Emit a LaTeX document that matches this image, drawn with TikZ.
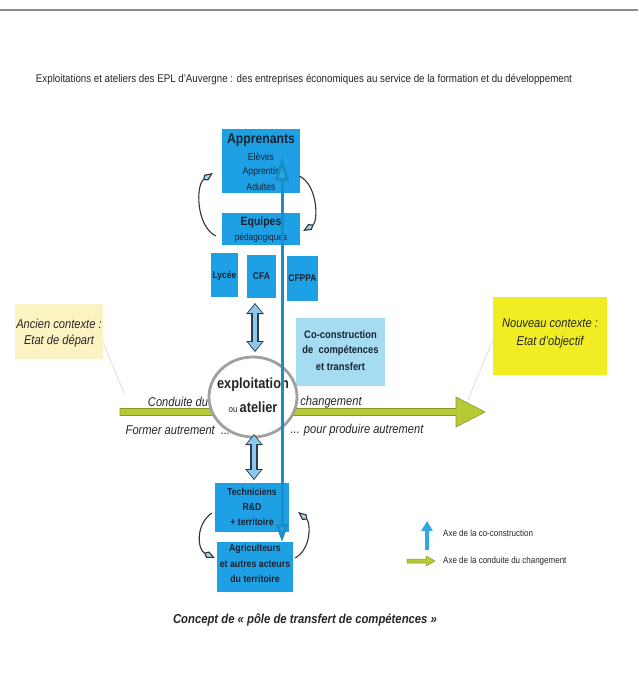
\documentclass[tikz,border=0pt]{standalone}
\usepackage{fontspec}
\setmainfont[FakeStretch=0.87]{Liberation Sans}
\usetikzlibrary{arrows.meta,shapes.geometric,calc}
\definecolor{boxblue}{RGB}{30,160,228}
\definecolor{vblue}{RGB}{27,141,198}
\definecolor{vbluefill}{RGB}{45,168,225}
\definecolor{lightbox}{RGB}{166,220,242}
\definecolor{paleyel}{RGB}{251,244,194}
\definecolor{brightyel}{RGB}{240,238,34}
\definecolor{gfill}{RGB}{183,201,53}
\definecolor{gdark}{RGB}{135,150,40}
\definecolor{ellgray}{RGB}{160,160,160}
\definecolor{dafill}{RGB}{140,200,238}
\definecolor{daout}{RGB}{45,60,75}
\definecolor{boxtext}{RGB}{25,35,50}
\definecolor{arrfill}{RGB}{160,212,240}
\newcommand{\fsz}[1]{\fontsize{#1}{#1}\selectfont}
\tikzset{
  bbox/.style={fill=boxblue, draw=none, inner sep=0pt},
  tx/.style={inner sep=0pt, text=boxtext},
  curv/.style={draw=black!80, line width=1.1pt, -{Kite[length=12pt,width=7pt,inset=4pt,fill=arrfill]}},
  faint/.style={draw=black!18, line width=0.5pt},
}
\begin{document}
\begin{tikzpicture}[x=1pt,y=-1pt]
\useasboundingbox (0,0) rectangle (638,696);
\fill[white] (0,0) rectangle (638,696);
\draw[black!45, line width=1.2pt] (0,10) -- (638,10);

% title
\node[tx, text=black!85] (title) at (304,80) {\fsz{11.2}Exploitations et ateliers des EPL d'Auvergne : des entreprises économiques au service de la formation et du développement};

% context boxes
\node[fill=paleyel, minimum width=88pt, minimum height=55pt, inner sep=0pt] (anc) at (59,331) {};
\node[tx, text=black!85] (anc1) at (59,324) {\fsz{12.8}\itshape Ancien contexte :};
\node[tx, text=black!85] (anc2) at (59,341) {\fsz{12.8}\itshape Etat de départ};
\node[fill=brightyel, minimum width=114pt, minimum height=78pt, inner sep=0pt] (nouv) at (550,336) {};
\node[tx, text=black!85] (nouv1) at (550,323) {\fsz{12.8}\itshape Nouveau contexte :};
\node[tx, text=black!85] (nouv2) at (550,342) {\fsz{12.8}\itshape Etat d'objectif};

% green arrow (conduite du changement)
\coordinate (gs) at (120,412);
\coordinate (ge) at (485,412);
\draw[faint] (anc.east |- 0,343) -- (125,395);
\draw[faint] (nouv.west |- 0,340) -- (468,400);
\filldraw[fill=gfill, draw=gdark, line width=0.6pt]
  ([yshift=3.5pt]gs) -- ([xshift=-29pt,yshift=3.5pt]ge) -- ([xshift=-29pt,yshift=15pt]ge) -- (ge)
  -- ([xshift=-29pt,yshift=-15pt]ge) -- ([xshift=-29pt,yshift=-3.5pt]ge) -- ([yshift=-3.5pt]gs) -- cycle;
\node[tx, text=black!85] (cond) at (178,402) {\fsz{12.8}\itshape Conduite du};
\node[tx, text=black!85] (chg) at (331,402) {\fsz{12.8}\itshape changement};
\node[tx, text=black!85] (form) at (178,430) {\fsz{12.8}\itshape Former autrement \ ...};
\node[tx, text=black!85] (prod) at (357,430) {\fsz{12.8}\itshape ... pour produire autrement};

% upper boxes
\node[bbox, minimum width=78pt, minimum height=64pt] (appr) at (261,161) {};
\node[tx] (appr1) at (261,140) {\fsz{14}\bfseries Apprenants};
\node[tx] (appr2) at (261,157) {\fsz{10}Elèves};
\node[tx] (appr3) at (261,172) {\fsz{10}Apprentis};
\node[tx] (appr4) at (261,187) {\fsz{10}Adultes};
\node[bbox, minimum width=78pt, minimum height=32pt] (equ) at (261,229) {};
\node[tx] (equ1) at (261,222) {\fsz{12}\bfseries Equipes};
\node[tx] (equ2) at (261,238) {\fsz{9.6}pédagogiques};
\node[bbox, minimum width=27pt, minimum height=44pt] (lyc) at (224.5,275) {};
\node[tx] (lyc1) at (224.5,276) {\fsz{9.8}\bfseries Lycée};
\node[bbox, minimum width=29pt, minimum height=43pt] (cfa) at (261.5,276.5) {};
\node[tx] (cfa1) at (261.5,276) {\fsz{9.8}\bfseries CFA};
\node[bbox, minimum width=31pt, minimum height=45pt] (cfppa) at (302.5,278.5) {};
\node[tx] (cfppa1) at (302.5,278.5) {\fsz{9.8}\bfseries CFPPA};

\draw[curv] ([xshift=-6pt,yshift=-7pt]equ.west) .. controls +(-20,-10) and +(-17,12) .. ([xshift=-9pt,yshift=-12pt]appr.west);
\draw[curv] ([xshift=-1pt,yshift=-15pt]appr.east) .. controls +(19,9) and +(15,-9) .. ([xshift=3pt,yshift=-2pt]equ.east);

% co-construction box
\node[fill=lightbox, minimum width=89pt, minimum height=68pt, inner sep=0pt] (coc) at (340.5,352) {};
\node[tx] (coc1) at (340.5,335) {\fsz{10.8}\bfseries Co-construction};
\node[tx] (coc2) at (340.5,351) {\fsz{10.8}\bfseries de \ compétences};
\node[tx] (coc3) at (340.5,367) {\fsz{10.8}\bfseries et transfert};

% ellipse
\node[ellipse, draw=ellgray, line width=2.8pt, fill=white, minimum width=88pt, minimum height=80pt, inner sep=0pt] (ell) at (253,397) {};
\node[tx, text=black!85] (ell1) at (253,385) {\fsz{14.7}\bfseries exploitation};
\node[tx, text=black!85] (ell2) at (253,407) {\fsz{9.2}ou \fsz{14.7}\bfseries atelier};

% lower boxes
\node[bbox, minimum width=74pt, minimum height=49pt] (tech) at (252,507.5) {};
\node[tx] (tech1) at (252,492) {\fsz{10}\bfseries Techniciens};
\node[tx] (tech2) at (252,507) {\fsz{10}\bfseries R\&D};
\node[tx] (tech3) at (252,522) {\fsz{10}\bfseries + territoire};
\node[bbox, minimum width=76pt, minimum height=50pt] (agr) at (255,567) {};
\node[tx] (agr1) at (255,549) {\fsz{10.1}\bfseries Agriculteurs};
\node[tx] (agr2) at (255,564) {\fsz{10.1}\bfseries et autres acteurs};
\node[tx] (agr3) at (255,579) {\fsz{10.1}\bfseries du territoire};

\draw[curv] ([xshift=-3pt,yshift=-5.5pt]tech.west) .. controls +(-17,12) and +(-17,-8) .. ([xshift=-2pt,yshift=9pt]agr.west);
\draw[curv] ([xshift=2pt,yshift=9pt]agr.east) .. controls +(17,-10) and +(12,10) .. ([xshift=9pt,yshift=-4.5pt]tech.east);

% double arrows
\coordinate (da1a) at (255,303);
\coordinate (da1b) at (255,352);
\coordinate (da2a) at (254,434);
\coordinate (da2b) at (254,480);
\foreach \a/\b in {da1a/da1b, da2a/da2b}{
  \draw[daout, line width=7.4pt, {Triangle[length=11pt,width=17pt]}-{Triangle[length=11pt,width=17pt]}] (\a) -- (\b);
  \draw[dafill, line width=4.6pt, shorten <=1.4pt, shorten >=1.4pt, {Triangle[length=8.4pt,width=13pt]}-{Triangle[length=8.4pt,width=13pt]}] (\a) -- (\b);
}

% vertical co-construction axis
\coordinate (vt) at (282,157);
\coordinate (vb) at (282,542);
\draw[vblue, line width=3pt, {Triangle[length=24pt,width=14pt,fill=vbluefill]}-{Triangle[length=18pt,width=12pt,fill=vbluefill]}] (vt) -- (vb);

% legend
\coordinate (lb1) at (427,550);
\coordinate (lb2) at (427,521);
\draw[vbluefill, line width=4.5pt, -{Triangle[length=10pt,width=11pt]}] (lb1) -- (lb2);
\node[tx, anchor=west, text=black!85] (leg1) at (443,533) {\fsz{9.2}Axe de la co-construction};
\coordinate (lg1) at (407,561);
\coordinate (lg2) at (435,561);
\filldraw[fill=gfill, draw=gdark, line width=0.5pt]
  ([yshift=2pt]lg1) -- ([xshift=-9pt,yshift=2pt]lg2) -- ([xshift=-9pt,yshift=5pt]lg2) -- (lg2)
  -- ([xshift=-9pt,yshift=-5pt]lg2) -- ([xshift=-9pt,yshift=-2pt]lg2) -- ([yshift=-2pt]lg1) -- cycle;
\node[tx, anchor=west, text=black!85] (leg2) at (443,561) {\fsz{9.2}Axe de la conduite du changement};

% caption
\node[tx, text=black!85] (cap) at (305,620) {\fsz{13}\bfseries\itshape Concept de « pôle de transfert de compétences »};
\end{tikzpicture}
\end{document}
